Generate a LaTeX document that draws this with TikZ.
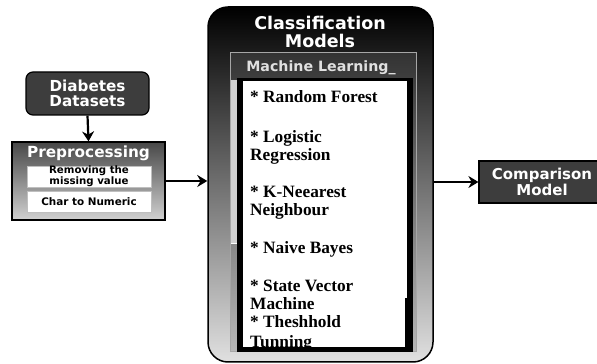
\documentclass[tikz,border=0pt]{standalone}
\usepackage{fontspec}
\newfontfamily\dvs{DejaVu Sans}
\newfontfamily\lserif{Liberation Serif}
\usetikzlibrary{arrows.meta}
\begin{document}
\begin{tikzpicture}[x=1pt,y=1pt,
  arr/.style={line width=2.2pt,-{Stealth[length=10pt,width=12pt]}},
  darkbox/.style={draw=black,line width=1.2pt,fill=black!76,text=white,align=center,inner sep=0pt},
  whitebox/.style={draw=black!25,line width=0.6pt,fill=white,align=center,inner sep=0pt,minimum width=124pt,minimum height=21pt},
  item/.style={anchor=base west,inner sep=0pt,font=\lserif\bfseries\fontsize{17.3}{18}\selectfont}]
\useasboundingbox (0,0) rectangle (597,364);
\clip (0,0) rectangle (597,364);
\fill[white] (0,0) rectangle (597,364);

% Diabetes datasets
\node[darkbox,rounded corners=7pt,minimum width=123pt,minimum height=43pt,
  font=\dvs\bfseries\fontsize{15.2}{15}\selectfont] (dia) at (87.5,270.5) {Diabetes\\Datasets};

% Preprocessing
\node[draw=black,line width=1.2pt,top color=black!72,bottom color=black!18,
  minimum width=153pt,minimum height=78pt,inner sep=0pt] (pre) at (88.5,183) {};
\node[text=white,inner sep=0pt,font=\dvs\bfseries\fontsize{15.3}{15}\selectfont] (pret) at (88.5,211) {Preprocessing};
\node[whitebox,font=\dvs\bfseries\fontsize{10.2}{9.5}\selectfont] (rm) at (89,187.5) {Removing the\\missing value};
\node[whitebox,font=\dvs\bfseries\fontsize{10.4}{10}\selectfont] (ch) at (89,162.5) {Char to Numeric};

% Classification models
\node[draw=black,line width=1.5pt,rounded corners=20pt,top color=black,middle color=black!84,bottom color=black!12,
  minimum width=225pt,minimum height=355pt,inner sep=0pt] (cls) at (320.5,179.5) {};
\node[text=white,align=center,inner sep=0pt,font=\dvs\bfseries\fontsize{17.5}{18}\selectfont] (clst) at (320,332) {Classification\\Models};

% Machine learning panel
\shade[top color=black!80,bottom color=black!28,draw=black!35,line width=1pt] (230,12) rectangle (416,311);
\fill[black!18] (231,121) rectangle (237,284);
\draw[white,line width=0.8pt] (231,121) -- (237,121);
\node[text=black!12,inner sep=0pt,font=\dvs\bfseries\fontsize{14.2}{14}\selectfont] (mlt) at (321,296) {Machine Learning\_};

% list box
\fill[black] (237,12) rectangle (413,286);
\fill[white] (243,17) rectangle (407,283);
\fill[black] (405,17) rectangle (407,66);
\begin{scope}
\clip (243,17) rectangle (405,283);
\node[item] (i1) at (250,261) {* Random Forest};
\node[item] (i2) at (250,221) {* Logistic};
\node[item] (i2b) at (250,203) {Regression};
\node[item] (i3) at (250,166) {* K-Neearest};
\node[item] (i3b) at (250,148) {Neighbour};
\node[item] (i4) at (250,110) {* Naive Bayes};
\node[item] (i5) at (250,72) {* State Vector};
\node[item] (i5b) at (250,54) {Machine};
\node[item] (i6) at (250,36) {* Theshhold};
\node[item] (i6b) at (250,16) {Tunning};
\end{scope}

% Comparison model
\node[darkbox,minimum width=126pt,minimum height=42pt,
  font=\dvs\bfseries\fontsize{15}{14}\selectfont] (cmp) at (542,182) {Comparison\\Model};

% connectors
\draw[arr] (dia.south) -- (pre.north);
\draw[arr] (pre.east) -- (pre.east -| cls.west);
\draw[arr] (cls.east |- cmp.west) -- (cmp.west);
\end{tikzpicture}
\end{document}
